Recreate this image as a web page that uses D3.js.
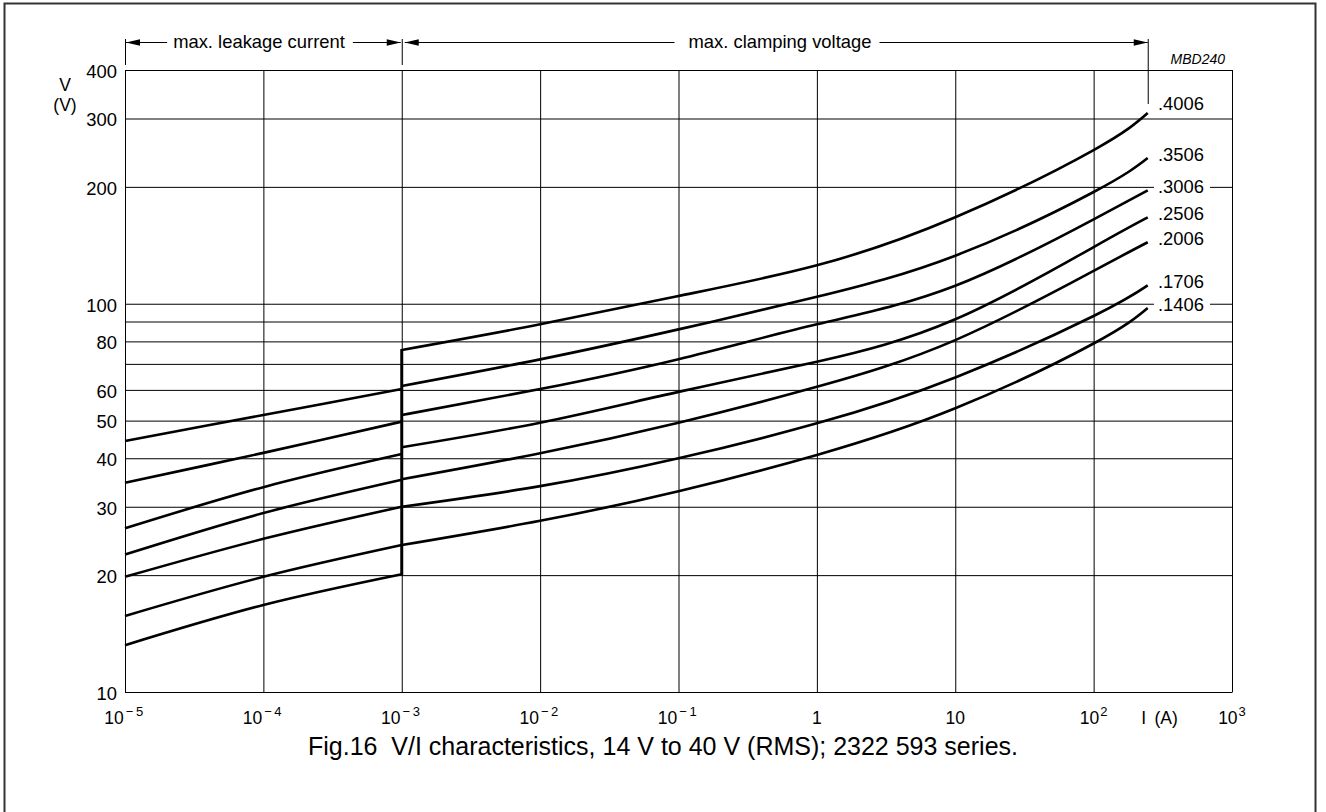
<!DOCTYPE html>
<html><head><meta charset="utf-8">
<script src="https://cdn.jsdelivr.net/npm/d3@7"></script>
<style>
body{margin:0;background:#fff}
svg{display:block}
text{font-family:"Liberation Sans",Arial,Helvetica,sans-serif;fill:#000}
</style>
</head><body>
<svg id="chart" width="1326" height="812"></svg>
<script>
// ---------------- data ----------------
const seriesNames = [".4006", ".3506", ".3006", ".2506", ".2006", ".1706", ".1406"];
const leakageCurrents = [1e-5, 1e-4, 1e-3];
const leakageVoltages = [
  [44.3, 51.7, 60.3],
  [34.6, 41.3, 49.7],
  [26.4, 33.7, 41.0],
  [22.6, 28.9, 35.2],
  [19.8, 24.8, 30.0],
  [15.7, 19.8, 23.9],
  [13.2, 16.75, 20.1]
];
const clampCurrents = [1e-3, 1e-2, 1e-1, 1, 10, 100, 246];
const clampVoltages = [
  [76.0, 88.5, 104.7, 125.6, 167.0, 248.8, 309.8],
  [61.4, 71.9, 85.9, 104.2, 133.0, 194.0, 237.3],
  [51.7, 60.3, 72.0, 88.5, 111.3, 165.0, 196.0],
  [42.7, 49.4, 59.3, 70.9, 91.2, 140.0, 167.0],
  [35.3, 41.2, 49.4, 61.1, 80.6, 121.5, 144.0],
  [30.0, 33.9, 40.0, 49.2, 64.6, 93.0, 111.5],
  [23.9, 27.6, 32.9, 40.8, 53.8, 79.0, 97.5]
];
const yTicks = [10, 20, 30, 40, 50, 60, 70, 80, 90, 100, 200, 300, 400];
const yTickLabels = ["10", "20", "30", "40", "50", "60", "", "80", "", "100", "200", "300", "400"];
const xTickExponents = [-5, -4, -3, -2, -1, 0, 1, 2, 3];
const leakageText = "max. leakage current";
const clampText = "max. clamping voltage";
const figCode = "MBD240";
const yTitle = ["V", "(V)"];
const xTitle = ["I", "(A)"];
const caption = "Fig.16\u00A0 V/I characteristics, 14 V to 40 V (RMS); 2322 593 series.";

// ---------------- layout ----------------
const svg = d3.select("#chart");
const L = 125, R = 1232, T = 70, B = 692;
const x = d3.scaleLog().domain([1e-5, 1e3]).range([L, R]);
const y = d3.scaleLog().domain([10, 400]).range([B, T]);
const FS = 18.4;

// outer frame
svg.append("rect").attr("x", 4.5).attr("y", 3.5).attr("width", 1311).attr("height", 840)
  .attr("fill", "none").attr("stroke", "#333").attr("stroke-width", 2);

// y axis + horizontal grid
const yAxis = d3.axisLeft(y).tickValues(yTicks).tickSize(-(R - L)).tickSizeOuter(0).tickPadding(8)
  .tickFormat((d, i) => yTickLabels[i]);
const gy = svg.append("g").attr("transform", `translate(${L},0)`).call(yAxis);
gy.selectAll("line").attr("stroke", "#000").attr("stroke-width", 1);
gy.select(".domain").attr("stroke", "#000");
gy.selectAll("text").attr("font-size", FS).attr("dy", "0.4em")
  .attr("font-family", '"Liberation Sans",Arial,sans-serif');

// x axis + vertical grid
const xVals = xTickExponents.map(e => Math.pow(10, e));
const xAxis = d3.axisBottom(x).tickValues(xVals).tickSize(-(B - T)).tickSizeOuter(0).tickFormat("");
const gx = svg.append("g").attr("transform", `translate(0,${B})`).call(xAxis);
gx.selectAll("line").attr("stroke", "#000").attr("stroke-width", 1);
gx.select(".domain").attr("stroke", "#000");

// x tick labels (10 with superscripts)
const xl = svg.append("g");
xTickExponents.forEach(e => {
  const t = xl.append("text").attr("x", x(Math.pow(10, e))).attr("y", 724)
    .attr("text-anchor", "middle").attr("font-size", 17.5);
  if (e === 0) { t.text("1"); return; }
  if (e === 1) { t.text("10"); return; }
  t.append("tspan").text("10");
  const s = t.append("tspan").attr("dy", -8).attr("dx", e < 0 ? 2 : 1).attr("font-size", 13);
  if (e < 0) s.attr("letter-spacing", 2.5).text("\u2212" + Math.abs(e));
  else s.text(String(e));
});
// x title
svg.append("text").attr("x", x(Math.pow(10, 2.345))).attr("y", 724).attr("font-size", 17.5).text(xTitle[0]);
svg.append("text").attr("x", x(Math.pow(10, 2.44))).attr("y", 724).attr("font-size", 17.5).text(xTitle[1]);

// y title
svg.append("text").attr("x", 65).attr("y", 91).attr("text-anchor", "middle").attr("font-size", 17.5).text(yTitle[0]);
svg.append("text").attr("x", 65).attr("y", 111).attr("text-anchor", "middle").attr("font-size", 17.5).text(yTitle[1]);

// curves
const lineLeak = d3.line().x(d => x(d[0])).y(d => y(d[1])).curve(d3.curveCatmullRom.alpha(0.5));
const lineClamp = d3.line().x(d => x(d[0])).y(d => y(d[1])).curve(d3.curveNatural);
const curves = svg.append("g").attr("fill", "none").attr("stroke", "#000").attr("stroke-width", 2.6);
leakageVoltages.forEach(vs => {
  curves.append("path").attr("d", lineLeak(vs.map((v, i) => [leakageCurrents[i], v])));
});
clampVoltages.forEach(vs => {
  curves.append("path").attr("d", lineClamp(vs.map((v, i) => [clampCurrents[i], v])));
});
// vertical junction at 1 mA
const jMin = d3.min(leakageVoltages, d => d[d.length - 1]);
const jMax = d3.max(clampVoltages, d => d[0]);
svg.append("line").attr("x1", x(1e-3)).attr("x2", x(1e-3))
  .attr("y1", y(jMin) + 1).attr("y2", y(jMax) - 1)
  .attr("stroke", "#000").attr("stroke-width", 3);

// right labels with white background (masking the grid lines they sit on)
const lastI = clampCurrents[clampCurrents.length - 1];
const lab = svg.append("g");
clampVoltages.forEach((vs, i) => {
  const yy = y(vs[vs.length - 1]) + (i === 0 ? -3 : 3);
  const g = lab.append("g");
  const t = g.append("text").attr("x", 1158).attr("y", yy).attr("font-size", FS).text(seriesNames[i]);
  const w = t.node().getComputedTextLength();
  g.insert("rect", "text").attr("x", 1154).attr("y", yy - 14.5).attr("width", w + 10).attr("height", 16).attr("fill", "#fff");
});

// header annotations
const hy = 42.5;
const ann = svg.append("g").attr("stroke", "#000").attr("stroke-width", 1);
function arrowHead(tipX, dir) {
  const len = 14, hw = 3.3;
  svg.append("path").attr("d", `M${tipX},${hy}L${tipX - dir * len},${hy - hw}L${tipX - dir * len},${hy + hw}Z`).attr("fill", "#000");
}
const x0 = x(1e-5), x1 = x(1e-3), x2 = x(lastI);
ann.append("line").attr("x1", x0 + 0.5).attr("x2", x0 + 0.5).attr("y1", 39).attr("y2", 65);
ann.append("line").attr("x1", x1 + 0.5).attr("x2", x1 + 0.5).attr("y1", 39).attr("y2", 65);
ann.append("line").attr("x1", x2 + 0.5).attr("x2", x2 + 0.5).attr("y1", 39).attr("y2", 104);

const t1 = svg.append("text").attr("x", 259).attr("y", 47.5).attr("text-anchor", "middle").attr("font-size", FS).text(leakageText);
const w1 = t1.node().getComputedTextLength();
ann.append("line").attr("x1", x0 + 1).attr("x2", 259 - w1 / 2 - 6).attr("y1", hy).attr("y2", hy);
ann.append("line").attr("x1", 259 + w1 / 2 + 8).attr("x2", x1 - 1).attr("y1", hy).attr("y2", hy);
arrowHead(x0 + 1, -1);
arrowHead(x1 - 1, 1);

const t2 = svg.append("text").attr("x", 780).attr("y", 47.5).attr("text-anchor", "middle").attr("font-size", FS).text(clampText);
const w2 = t2.node().getComputedTextLength();
ann.append("line").attr("x1", x1 + 3).attr("x2", 780 - w2 / 2 - 14).attr("y1", hy).attr("y2", hy);
ann.append("line").attr("x1", 780 + w2 / 2 + 8).attr("x2", x2).attr("y1", hy).attr("y2", hy);
arrowHead(x1 + 3, -1);
arrowHead(x2, 1);

svg.append("text").attr("x", 1225).attr("y", 64).attr("text-anchor", "end")
  .attr("font-size", 14).attr("font-style", "italic").text(figCode);

// caption
svg.append("text").attr("x", 663).attr("y", 755).attr("text-anchor", "middle")
  .attr("font-size", 25).text(caption);
</script>
</body></html>
